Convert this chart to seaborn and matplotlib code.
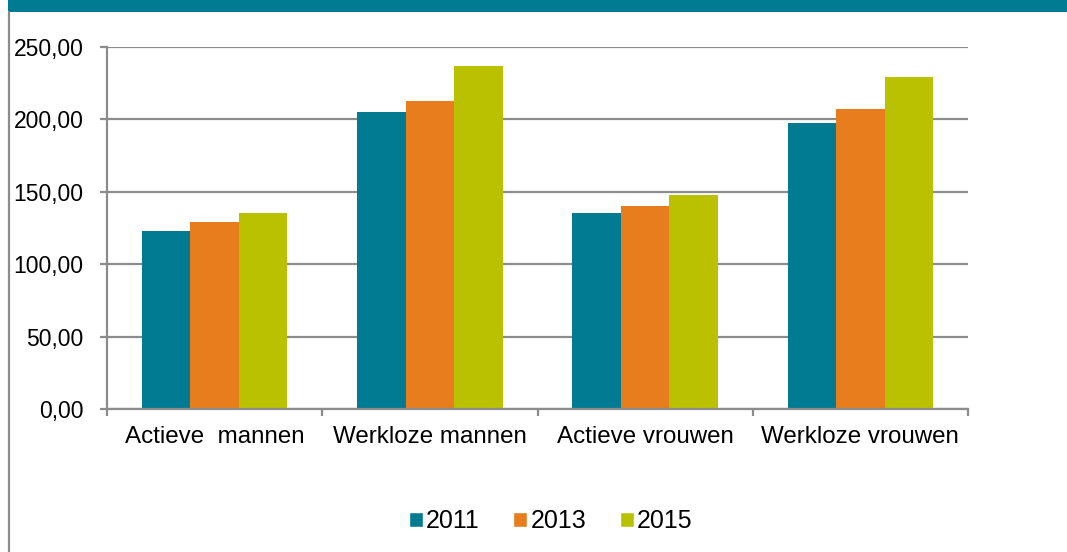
import pandas as pd
import matplotlib.pyplot as plt
import seaborn as sns
from matplotlib.patches import Rectangle
from matplotlib.lines import Line2D
from matplotlib.ticker import FuncFormatter

# data
categories = ["Actieve  mannen", "Werkloze mannen", "Actieve vrouwen", "Werkloze vrouwen"]
years = ["2011", "2013", "2015"]
values_2011 = [123.1, 204.9, 135.4, 197.3]
values_2013 = [129.4, 212.7, 140.2, 207.2]
values_2015 = [135.1, 236.9, 148.1, 229.5]
colors = ["#017B91", "#E87D1E", "#B9C100"]

rows = []
for year, vals in zip(years, [values_2011, values_2013, values_2015]):
    for cat, v in zip(categories, vals):
        rows.append({"Groep": cat, "Jaar": year, "Waarde": v})
df = pd.DataFrame(rows)

sns.set_style("white")
plt.rcParams["font.family"] = ["Liberation Sans", "DejaVu Sans"]
plt.rcParams["text.color"] = "black"

fig = plt.figure(figsize=(10.67, 5.52), dpi=100)
ax = fig.add_axes([0.1003, 0.259, 0.8069, 0.6559])

sns.barplot(data=df, x="Groep", y="Waarde", hue="Jaar", order=categories,
            hue_order=years, palette=colors, width=0.675, gap=0,
            saturation=1, errorbar=None, ax=ax, legend=False, linewidth=0)

grid_col = "#8C8C8C"
ax.set_ylim(0, 250)
ax.set_xlim(-0.5, 3.5)
ax.set_yticks([0, 50, 100, 150, 200, 250])
ax.yaxis.set_major_formatter(FuncFormatter(lambda v, p: f"{v:.2f}".replace(".", ",")))
ax.yaxis.grid(True, color=grid_col, linewidth=1.6)
ax.set_axisbelow(True)
ax.set_xlabel("")
ax.set_ylabel("")

for s in ["top", "right"]:
    ax.spines[s].set_visible(False)
for s in ["left", "bottom"]:
    ax.spines[s].set_color(grid_col)
    ax.spines[s].set_linewidth(1.6)

ax.tick_params(axis="y", which="major", direction="out", length=5, width=1.6,
               color=grid_col, labelsize=16.5, labelcolor="black", pad=12, left=True)
ax.tick_params(axis="x", which="major", length=0, labelsize=17.4,
               labelcolor="black", pad=12)
ax.set_xticks([-0.5, 0.5, 1.5, 2.5, 3.5], minor=True)
ax.tick_params(axis="x", which="minor", direction="out", length=5, width=1.6,
               color=grid_col, bottom=True)

# legend
handles = [Rectangle((0, 0), 1, 1, facecolor=c) for c in colors]
fig.legend(handles, years, loc="center", bbox_to_anchor=(0.516, 0.056), ncol=3,
           frameon=False, fontsize=18, handlelength=0.56, handleheight=0.56,
           handletextpad=0.12, columnspacing=1.36)

# decorative band on top and left frame line
fig.patches.append(Rectangle((8 / 1067, 1 - 12 / 552), 1, 12 / 552,
                             transform=fig.transFigure, facecolor="#017B91",
                             edgecolor="none"))
fig.lines.append(Line2D([8.5 / 1067, 8.5 / 1067], [0, 1 - 12 / 552],
                        transform=fig.transFigure, color=grid_col, linewidth=1.6))

fig.savefig("out.png", dpi=100)
